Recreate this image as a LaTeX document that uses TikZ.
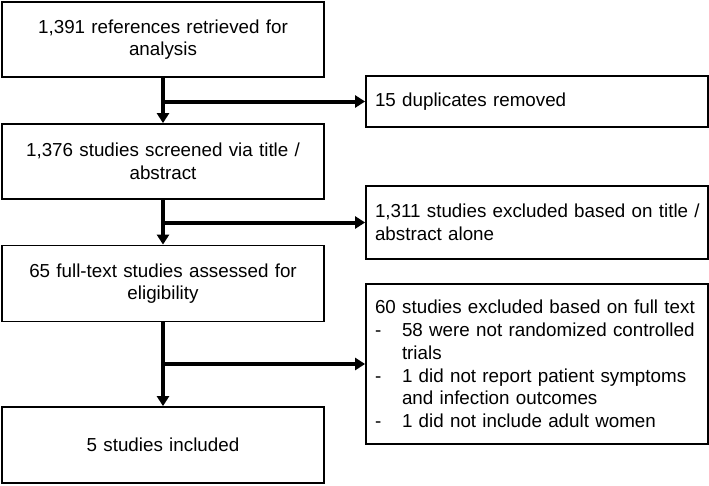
\documentclass[tikz,border=0pt]{standalone}
\usepackage{fontspec}
\setmainfont{Liberation Sans}
\usetikzlibrary{arrows.meta}
\begin{document}
\begin{tikzpicture}[x=1pt,y=-1pt,
  box/.style={draw, line width=1.8pt, inner sep=0pt, font=\fontsize{18.8pt}{22.7pt}\selectfont},
  lbox/.style={box, minimum width=322pt, text width=316pt, align=center},
  rbox/.style={box, minimum width=342pt, text width=326pt, inner xsep=8pt, align=left},
  arr/.style={line width=4pt, -{Triangle[length=10pt,width=12pt]}}]
\useasboundingbox (0,0) rectangle (709,485);
\node[lbox, minimum height=75pt] (L1) at (163,39.5) {1,391 references retrieved for\\analysis};
\node[lbox, minimum height=75pt] (L2) at (163,161.5) {1,376 studies screened via title /\\abstract};
\node[lbox, minimum height=76pt] (L3) at (163,283.5) {65 full-text studies assessed for\\eligibility};
\node[lbox, minimum height=76pt] (L4) at (163,445) {5 studies included};
\node[rbox, minimum height=51pt] (R1) at (537,101.5) {\hspace*{1pt}15 duplicates removed};
\node[rbox, minimum height=73pt] (R2) at (537,222.5) {\hspace*{1pt}1,311 studies excluded based on title /\\\hspace*{1pt}abstract alone};
\node[rbox, minimum height=160pt] (R3) at (537,364) {\hspace*{1pt}60 studies excluded based on full text\\
\hspace*{1pt}\makebox[27pt][l]{-}58 were not randomized controlled\\
\hspace*{28pt}trials\\
\hspace*{1pt}\makebox[27pt][l]{-}1 did not report patient symptoms\\
\hspace*{28pt}and infection outcomes\\
\hspace*{1pt}\makebox[27pt][l]{-}1 did not include adult women};
\draw[arr] (L1.south) -- (L2.north);
\draw[arr] (L2.south) -- (L3.north);
\draw[arr] (L3.south) -- (L4.north);
\draw[arr] (L1.south |- R1.west) -- (R1.west);
\draw[arr] (L2.south |- R2.west) -- (R2.west);
\draw[arr] (L3.south |- R3.west) -- (R3.west);
\end{tikzpicture}
\end{document}
